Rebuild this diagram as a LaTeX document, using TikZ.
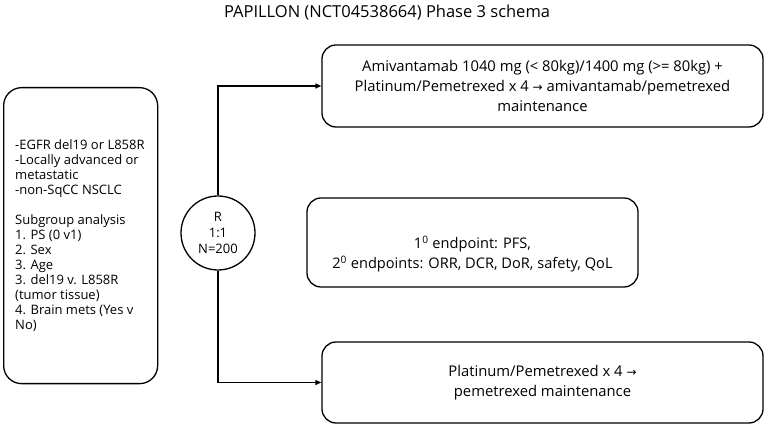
\documentclass[tikz,border=0pt]{standalone}
\usepackage{fontspec}
\setmainfont{Open Sans}
\newfontfamily\arr{DejaVu Sans}
\usetikzlibrary{arrows.meta}
\tikzset{
  rbox/.style={draw, line width=1.3pt, rounded corners=14pt, align=center, inner sep=0pt, font=\fontsize{14.8}{20}\selectfont},
  conn/.style={line width=1.3pt, -{Triangle[length=6pt,width=5pt]}}
}
\begin{document}
\begin{tikzpicture}[x=1pt,y=-1pt]
\useasboundingbox (0,0) rectangle (764,427);
\node (title) at (387,13) {\fontsize{16.5}{19}\selectfont PAPILLON (NCT04538664) Phase 3 schema};
\node (left) [draw, line width=1.3pt, rounded corners=18pt, minimum width=154pt, minimum height=296pt, inner sep=0pt, anchor=north west] at (3,87) {};
\node (lefttext) [anchor=west, align=left, inner sep=0pt, font=\fontsize{13}{15}\selectfont] at (15,236) {-EGFR del19 or L858R\\-Locally advanced or\\metastatic\\-non-SqCC NSCLC\\[15pt]Subgroup analysis\\1. PS (0 v1)\\2. Sex\\3. Age\\3. del19 v. L858R\\(tumor tissue)\\4. Brain mets (Yes v\\No)};
\node (rand) [draw, circle, line width=1.3pt, minimum size=74pt, inner sep=0pt, align=center, font=\fontsize{13}{16}\selectfont] at (218,233) {R\\1:1\\N=200};
\node (top) [rbox, minimum width=441pt, minimum height=82pt] at (542.5,86) {Amivantamab 1040 mg (< 80kg)/1400 mg (>= 80kg) +\\Platinum/Pemetrexed x 4 {\arr\fontsize{12}{11}\selectfont →} amivantamab/pemetrexed\\maintenance};
\node (mid) [rbox, minimum width=331pt, minimum height=89pt] at (472.5,242.5) {};
\node (midtext) [align=center, inner sep=0pt, font=\fontsize{14.6}{20}\selectfont] at (472.5,254) {1\textsuperscript{0} endpoint: PFS,\\2\textsuperscript{0} endpoints: ORR, DCR, DoR, safety, QoL};
\node (bot) [rbox, minimum width=441pt, minimum height=81pt] at (542.5,382.5) {Platinum/Pemetrexed x 4 {\arr\fontsize{12}{11}\selectfont →}\\pemetrexed maintenance};
\draw[conn] (rand.north) |- (top.west);
\draw[conn] (rand.south) |- (bot.west);
\end{tikzpicture}
\end{document}
